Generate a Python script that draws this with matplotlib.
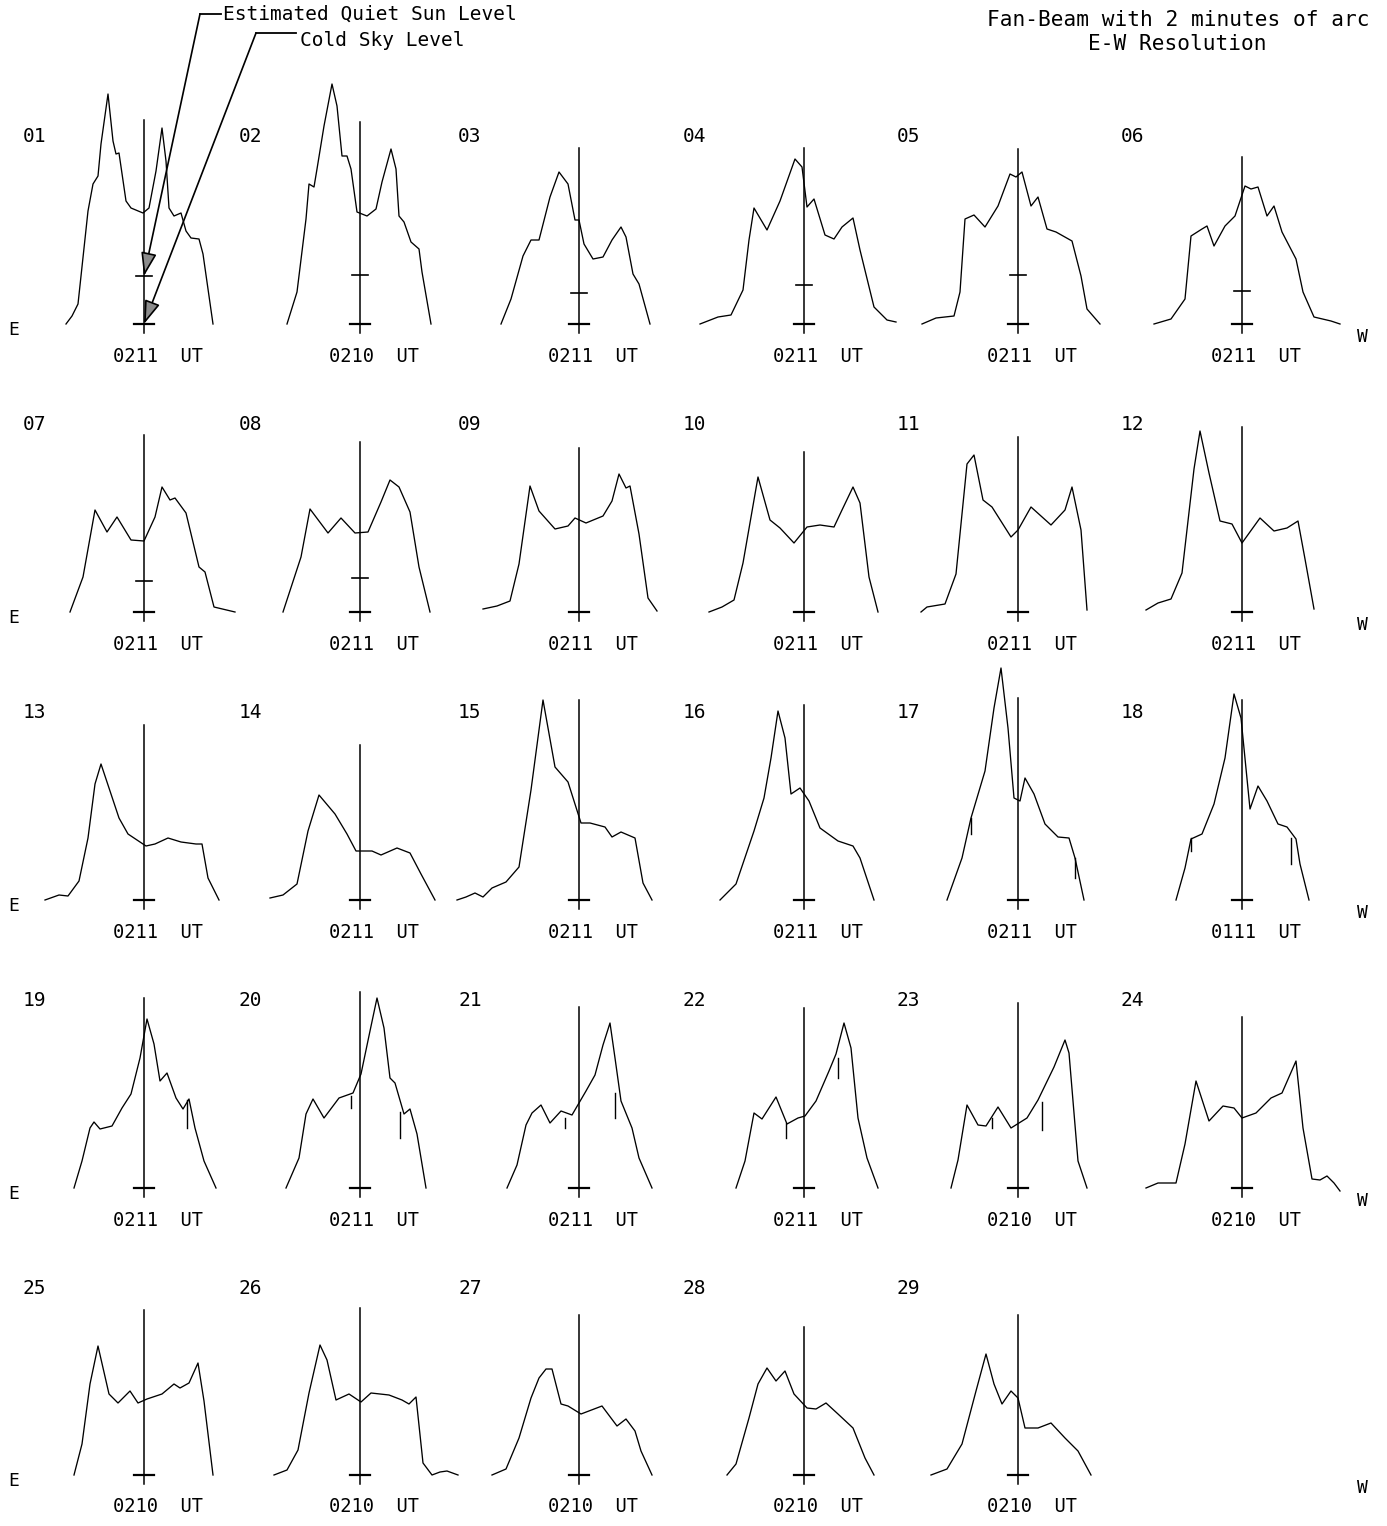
import matplotlib.pyplot as plt

plt.rcParams['font.family'] = 'DejaVu Sans Mono'

W, H = 1387, 1526

# scan profiles: offset from disk centre (E negative) and height above cold sky
x01 = [-78, -72, -66, -56, -51, -46, -43, -36, -31, -28, -25, -18, -13, -1, 5, 12, 18, 22, 25, 30, 37, 42, 47, 55, 59, 69]
h01 = [0, 8, 20, 113, 140, 148, 180, 230, 183, 170, 171, 123, 116, 111, 116, 153, 196, 163, 116, 108, 111, 93, 86, 85, 70, 0]
x02 = [-73, -63, -54, -51, -46, -43, -36, -28, -23, -18, -13, -9, -3, 7, 16, 22, 31, 36, 39, 44, 51, 59, 62, 71]
h02 = [0, 32, 105, 140, 137, 155, 198, 240, 218, 168, 168, 155, 112, 108, 115, 142, 175, 155, 108, 102, 82, 75, 52, 0]
x03 = [-78, -68, -56, -48, -40, -29, -20, -11, -4, 0, 5, 14, 24, 33, 42, 47, 54, 60, 71]
h03 = [0, 25, 68, 84, 84, 127, 152, 140, 104, 104, 80, 65, 67, 84, 97, 87, 50, 40, 0]
x04 = [-104, -86, -73, -61, -55, -50, -37, -24, -9, -2, 3, 10, 21, 30, 38, 49, 56, 70, 83, 92]
h04 = [0, 7, 9, 34, 84, 116, 94, 123, 165, 157, 117, 125, 89, 85, 97, 106, 74, 17, 4, 2]
x05 = [-96, -82, -64, -58, -53, -44, -33, -20, -8, -2, 4, 13, 20, 29, 38, 54, 63, 69, 82]
h05 = [0, 6, 8, 32, 105, 109, 97, 118, 150, 147, 152, 118, 127, 95, 92, 83, 48, 15, 0]
x06 = [-88, -71, -57, -51, -40, -35, -28, -17, -7, 3, 9, 16, 25, 32, 40, 54, 61, 72, 89, 98]
h06 = [0, 5, 25, 88, 95, 98, 78, 98, 108, 138, 135, 137, 108, 118, 92, 65, 32, 7, 3, 0]
x07 = [-74, -61, -49, -37, -27, -13, 0, 11, 18, 26, 31, 42, 55, 61, 70, 91]
h07 = [0, 35, 102, 80, 95, 72, 71, 95, 125, 112, 114, 99, 45, 40, 5, 0]
x08 = [-77, -59, -50, -32, -19, -5, 8, 21, 30, 39, 50, 59, 70]
h08 = [0, 55, 103, 79, 94, 79, 80, 110, 132, 125, 100, 45, 0]
x09 = [-96, -82, -69, -60, -49, -40, -24, -11, -4, 7, 24, 33, 40, 47, 51, 60, 69, 78]
h09 = [3, 6, 11, 48, 126, 101, 83, 86, 94, 89, 96, 111, 138, 124, 126, 78, 14, 1]
x10 = [-95, -82, -70, -61, -46, -34, -24, -10, 3, 16, 30, 38, 49, 56, 65, 74]
h10 = [0, 5, 12, 49, 135, 92, 84, 69, 85, 87, 85, 102, 125, 109, 35, 0]
x11 = [-97, -91, -73, -62, -51, -44, -35, -26, -7, 0, 13, 33, 47, 54, 63, 69]
h11 = [0, 5, 8, 38, 148, 157, 112, 105, 75, 82, 105, 87, 102, 125, 82, 2]
x12 = [-96, -84, -71, -60, -48, -42, -33, -22, -10, 0, 18, 32, 45, 56, 63, 72]
h12 = [2, 9, 13, 39, 143, 181, 139, 91, 88, 69, 94, 81, 84, 91, 53, 3]
x13 = [-99, -85, -76, -65, -56, -49, -43, -34, -25, -16, 2, 11, 24, 37, 52, 58, 64, 75]
h13 = [0, 5, 4, 19, 62, 116, 136, 109, 82, 66, 54, 56, 62, 58, 56, 56, 22, 0]
x14 = [-90, -77, -63, -52, -41, -25, -13, -4, 12, 21, 37, 50, 61, 75]
h14 = [2, 5, 16, 69, 105, 86, 66, 49, 49, 45, 52, 47, 26, 0]
x15 = [-122, -113, -104, -96, -87, -73, -60, -48, -36, -24, -11, 2, 11, 26, 33, 42, 56, 64, 73]
h15 = [0, 3, 7, 3, 12, 18, 33, 110, 200, 133, 118, 77, 77, 73, 63, 68, 62, 17, 0]
x16 = [-84, -68, -50, -40, -33, -26, -19, -13, -4, 5, 16, 34, 49, 56, 70]
h16 = [0, 16, 69, 102, 142, 189, 162, 106, 112, 99, 72, 59, 54, 42, 0]
x17 = [-71, -56, -47, -33, -24, -17, -10, -4, 2, 7, 16, 27, 40, 51, 57, 66]
h17 = [0, 42, 82, 129, 192, 232, 172, 102, 99, 122, 106, 76, 63, 62, 42, 0]
x18 = [-66, -57, -51, -40, -28, -17, -8, -1, 8, 16, 25, 36, 45, 54, 58, 67]
h18 = [0, 32, 61, 66, 96, 142, 206, 182, 91, 114, 99, 76, 73, 61, 36, 0]
x19 = [-70, -62, -54, -50, -44, -32, -22, -13, -4, 3, 10, 16, 23, 32, 39, 45, 51, 60, 72]
h19 = [0, 27, 60, 66, 59, 62, 80, 94, 130, 169, 144, 107, 115, 90, 79, 89, 60, 27, 0]
x20 = [-74, -61, -54, -47, -36, -21, -7, 1, 10, 17, 24, 30, 35, 44, 50, 57, 66]
h20 = [0, 30, 74, 89, 70, 90, 95, 114, 157, 190, 160, 110, 105, 74, 79, 54, 0]
x21 = [-72, -62, -53, -47, -38, -29, -18, -7, 7, 16, 24, 31, 36, 42, 53, 60, 73]
h21 = [0, 23, 63, 75, 83, 65, 77, 73, 97, 113, 143, 165, 130, 87, 60, 30, 0]
x22 = [-68, -59, -50, -42, -28, -17, -6, 1, 12, 25, 32, 40, 47, 54, 63, 74]
h22 = [0, 27, 75, 69, 91, 64, 70, 72, 87, 117, 134, 165, 140, 70, 30, 0]
x23 = [-67, -60, -51, -40, -32, -20, -7, 9, 20, 36, 47, 51, 60, 69]
h23 = [0, 28, 83, 63, 62, 81, 60, 70, 88, 121, 148, 135, 27, 0]
x24 = [-96, -84, -66, -57, -46, -33, -19, -8, 0, 14, 29, 40, 54, 61, 70, 78, 85, 92, 98]
h24 = [0, 5, 5, 44, 107, 67, 82, 80, 70, 75, 90, 95, 127, 60, 9, 8, 12, 5, -3]
x25 = [-70, -62, -54, -46, -35, -26, -14, -6, 3, 18, 30, 36, 45, 54, 60, 69]
h25 = [0, 31, 91, 129, 81, 72, 84, 72, 76, 81, 91, 87, 92, 112, 74, 0]
x26 = [-86, -73, -62, -51, -40, -33, -24, -11, 1, 11, 29, 42, 49, 56, 63, 72, 80, 87, 98]
h26 = [0, 5, 25, 82, 130, 115, 75, 81, 73, 82, 80, 75, 71, 78, 12, 0, 3, 4, 0]
x27 = [-87, -73, -60, -48, -40, -33, -27, -18, -11, 2, 23, 38, 47, 56, 62, 73]
h27 = [0, 6, 37, 77, 97, 106, 106, 71, 69, 61, 69, 49, 56, 44, 24, 0]
x28 = [-77, -68, -55, -46, -37, -28, -19, -10, 3, 12, 22, 34, 49, 61, 70]
h28 = [0, 11, 57, 91, 107, 94, 104, 81, 67, 66, 72, 61, 47, 17, 0]
x29 = [-87, -71, -56, -42, -32, -24, -16, -7, 0, 7, 20, 33, 47, 60, 73]
h29 = [0, 6, 31, 84, 121, 91, 71, 84, 77, 47, 47, 52, 37, 24, 0]

scan_x = [x01, x02, x03, x04, x05, x06, x07, x08, x09, x10, x11, x12, x13, x14, x15,
          x16, x17, x18, x19, x20, x21, x22, x23, x24, x25, x26, x27, x28, x29]
scan_h = [h01, h02, h03, h04, h05, h06, h07, h08, h09, h10, h11, h12, h13, h14, h15,
          h16, h17, h18, h19, h20, h21, h22, h23, h24, h25, h26, h27, h28, h29]

times = ['0211', '0210', '0211', '0211', '0211', '0211',
         '0211', '0211', '0211', '0211', '0211', '0211',
         '0211', '0211', '0211', '0211', '0211', '0111',
         '0211', '0211', '0211', '0211', '0210', '0210',
         '0210', '0210', '0210', '0210', '0210']

# top of the central meridian line
centre_top = [204, 202, 176, 176, 175, 167,
              177, 170, 164, 160, 175, 185,
              175, 155, 200, 195, 202, 200,
              190, 196, 181, 180, 185, 171,
              165, 167, 160, 148, 160]

# estimated quiet sun level (only first scans)
quiet_level = [48, 49, 31, 39, 49, 33, 31, 34]

# recorder glitches: panel, position, top, bottom
spike_panel = [17, 17, 18, 18, 19, 20, 20, 21, 21, 22, 22, 23, 23]
spike_x = [-47, 57, -51, 49, 43, -9, 40, -14, 36, -18, 34, -26, 24]
spike_top = [82, 42, 62, 62, 88, 92, 76, 70, 95, 65, 130, 70, 86]
spike_bot = [66, 22, 49, 36, 60, 80, 50, 60, 70, 50, 110, 60, 58]

col_x = [144, 360, 579, 804, 1018, 1242]
row_base = [324, 612, 900, 1188, 1475]

fig = plt.figure(figsize=(W / 100, H / 100), dpi=100)

for i in range(29):
    r, c = divmod(i, 6)
    cx, by = col_x[c], row_base[r]
    ax = fig.add_axes([(cx - 125) / W, (H - (by + 20)) / H, 250 / W, 280 / H])
    ax.set_xlim(-125, 125)
    ax.set_ylim(-20, 260)
    ax.axis('off')
    ax.plot(scan_x[i], scan_h[i], color='black', lw=0.95, solid_joinstyle='round')
    ax.plot([0, 0], [-9, centre_top[i]], color='black', lw=1.1)
    ax.plot([-10, 10], [0, 0], color='black', lw=1.6)
    if i < len(quiet_level):
        ax.plot([-8, 8], [quiet_level[i], quiet_level[i]], color='black', lw=1.2)
    for p, sx, st, sb in zip(spike_panel, spike_x, spike_top, spike_bot):
        if p == i + 1:
            ax.plot([sx, sx], [sb, st], color='black', lw=1.0)
    ax.text(-121, 187, f'{i + 1:02d}', fontsize=14, ha='left', va='center')
    ax.text(14, -32, f'{times[i]}  UT', fontsize=13.5, ha='center', va='center')

# overlay in pixel coordinates for the annotations
ov = fig.add_axes([0, 0, 1, 1])
ov.set_xlim(0, W)
ov.set_ylim(H, 0)
ov.axis('off')

for by in row_base:
    ov.text(14, by + 6, 'E', fontsize=13, ha='center', va='center')
    ov.text(1362, by + 13, 'W', fontsize=13, ha='center', va='center')

ov.text(223, 14, 'Estimated Quiet Sun Level', fontsize=14, ha='left', va='center')
ov.text(300, 40, 'Cold Sky Level', fontsize=14, ha='left', va='center')
ov.plot([200, 221], [14, 14], color='black', lw=1.3)
ov.plot([256, 296], [33, 33], color='black', lw=1.3)

ov.text(1178, 20, 'Fan-Beam with 2 minutes of arc', fontsize=15.2, ha='center', va='center')
ov.text(1177, 44, 'E-W Resolution', fontsize=15.2, ha='center', va='center')

head = dict(arrowstyle='-|>,head_length=0.9,head_width=0.3', lw=1.2,
            ec='black', fc='0.55', shrinkA=0, shrinkB=0, mutation_scale=16)
ov.annotate('', xy=(144, row_base[0] - quiet_level[0]), xytext=(200, 14), arrowprops=head)
ov.annotate('', xy=(144, row_base[0]), xytext=(256, 33), arrowprops=head)

fig.savefig('out.png', dpi=100)
